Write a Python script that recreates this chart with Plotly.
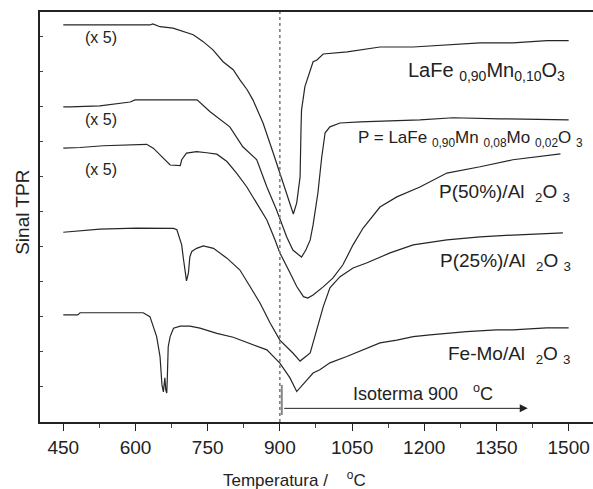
import plotly.graph_objects as go

# Temperature (°C) and TPR signal (arb. units)
temp_mn = [450, 630, 636, 651, 678, 699, 720, 740, 761, 782, 803, 817, 832, 844, 865, 886, 907, 921, 928, 935,
           942, 944, 945, 952, 959, 969, 977, 990, 1040, 1108, 1177, 1247, 1316, 1384, 1455, 1500]
sig_mn = [113.4, 113.4, 113.7, 112.9, 112.5, 111.5, 110.6, 108.7, 106.3, 102.9, 100.6, 97.7, 94.9, 92.0, 85.4,
          76.9, 68.3, 62.6, 59.4, 62.6, 70.0, 84.3, 89.1, 95.8, 98.7, 102.9, 103.4, 105.1, 105.7, 107.1, 107.1,
          107.7, 108.3, 108.3, 108.9, 108.9]

temp_p = [450, 464, 526, 589, 599, 728, 755, 796, 823, 852, 873, 893, 914, 927, 945, 954, 963, 969, 979, 987,
          994, 1004, 1025, 1067, 1191, 1260, 1357, 1500]
sig_p = [90.0, 90.0, 90.3, 91.4, 92.0, 92.0, 88.6, 84.3, 78.6, 74.9, 67.1, 60.6, 52.9, 49.1, 47.1, 49.1, 52.0,
         56.3, 65.4, 75.7, 82.6, 84.3, 85.4, 85.7, 86.3, 86.9, 86.6, 86.3]

temp_p50 = [450, 485, 533, 623, 637, 651, 672, 693, 696, 706, 727, 748, 769, 790, 810, 831, 852, 873, 890, 900,
            921, 935, 949, 958, 969, 990, 1010, 1031, 1052, 1073, 1108, 1143, 1191, 1247, 1316, 1384, 1483]
sig_p50 = [78.2, 78.4, 78.9, 79.3, 78.2, 76.3, 73.4, 73.2, 74.9, 76.8, 77.2, 76.9, 76.5, 74.4, 71.1, 67.2, 62.5,
           57.7, 52.0, 48.3, 42.6, 38.7, 35.8, 35.4, 36.3, 38.6, 41.1, 44.9, 50.6, 55.4, 61.4, 64.3, 67.1, 71.1,
           72.9, 74.9, 76.6]

temp_p25 = [450, 526, 602, 679, 686, 693, 696, 699, 703, 706, 710, 713, 717, 727, 741, 762, 790, 817, 838, 859,
            880, 900, 927, 942, 963, 977, 990, 1004, 1025, 1052, 1080, 1129, 1177, 1247, 1316, 1384, 1488]
sig_p25 = [54.2, 55.1, 55.4, 55.3, 54.9, 52.0, 50.6, 47.2, 42.5, 40.3, 42.6, 47.2, 48.7, 49.6, 50.3, 49.6, 46.8,
           43.4, 38.7, 33.9, 28.2, 23.4, 19.7, 17.4, 19.7, 26.3, 32.9, 38.3, 41.5, 44.0, 45.4, 48.3, 50.6, 52.0,
           52.9, 53.4, 54.0]

temp_femo = [450, 480, 485, 616, 630, 637, 644, 651, 655, 658, 661, 663, 665, 666, 668, 672, 679, 693, 713, 734,
             769, 803, 838, 873, 900, 921, 935, 956, 969, 983, 1004, 1039, 1073, 1108, 1143, 1177, 1212, 1247,
             1288, 1350, 1384, 1454, 1500]
sig_femo = [30.6, 30.6, 31.2, 31.2, 30.1, 27.2, 24.4, 18.7, 10.6, 8.6, 12.6, 9.1, 8.3, 12.0, 21.5, 24.4, 26.8,
            27.4, 27.4, 26.8, 25.3, 24.2, 22.5, 20.6, 16.8, 12.6, 8.7, 12.0, 14.0, 14.9, 16.9, 18.7, 20.6, 22.6,
            23.4, 24.4, 24.9, 25.4, 25.8, 26.3, 26.3, 26.9, 26.9]

x_ticks = [450, 600, 750, 900, 1050, 1200, 1350, 1500]
isotherm_temp = 900

FONT = "Liberation Sans, Arial, sans-serif"
LINE = "#262626"

fig = go.Figure()
for tx, sy in [(temp_mn, sig_mn), (temp_p, sig_p), (temp_p50, sig_p50), (temp_p25, sig_p25),
               (temp_femo, sig_femo)]:
    fig.add_trace(go.Scatter(x=tx, y=sy, mode="lines", line=dict(color=LINE, width=1.2),
                             showlegend=False, hoverinfo="skip"))

# dotted isotherm marker
fig.add_shape(type="line", x0=isotherm_temp, x1=isotherm_temp, y0=0, y1=1, xref="x", yref="paper",
              line=dict(color="#777777", width=1.5, dash="dot"))
fig.add_shape(type="line", x0=904, x1=904, y0=2.0, y1=10.6, xref="x", yref="y",
              line=dict(color="#888888", width=2))

lab = dict(color="#222222", family=FONT)
ann = []
ann.append(dict(x=1497, y=100, text="LaFe <sub>0,90</sub>Mn<sub>0,10</sub>O<sub>3</sub>",
                xanchor="right", yanchor="middle", font=dict(size=20, **lab)))
ann.append(dict(x=1534, y=80.9, text="P = LaFe <sub>0,90</sub>Mn <sub>0,08</sub>Mo <sub>0,02</sub>O <sub>3</sub>",
                xanchor="right", yanchor="middle", font=dict(size=17, **lab)))
ann.append(dict(x=1506, y=65.4, text="P(50%)/Al  <sub>2</sub>O <sub>3</sub>",
                xanchor="right", yanchor="middle", font=dict(size=19, **lab)))
ann.append(dict(x=1510, y=45.7, text="P(25%)/Al  <sub>2</sub>O <sub>3</sub>",
                xanchor="right", yanchor="middle", font=dict(size=19, **lab)))
ann.append(dict(x=1510, y=19.1, text="Fe-Mo/Al  <sub>2</sub>O <sub>3</sub>",
                xanchor="right", yanchor="middle", font=dict(size=19, **lab)))
for yy in [109.7, 86.3, 72.0]:
    ann.append(dict(x=528, y=yy, text="(x 5)", xanchor="center", yanchor="middle",
                    font=dict(size=16, **lab)))
ann.append(dict(x=1048, y=8.3, text="Isoterma 900   <sup>o</sup>C", xanchor="left", yanchor="middle",
                font=dict(size=18, **lab)))
# arrow
ann.append(dict(x=1415, y=3.9, ax=906, ay=3.9, axref="x", ayref="y", xref="x", yref="y", text="",
                showarrow=True, arrowhead=2, arrowsize=1.6, arrowwidth=1, arrowcolor="#222222"))
# axis titles
ann.append(dict(x=0.461, y=-0.14, xref="paper", yref="paper", text="Temperatura /    <sup>o</sup>C",
                xanchor="center", yanchor="middle", font=dict(size=17, **lab)))
ann.append(dict(x=-0.033, y=0.512, xref="paper", yref="paper", text="Sinal TPR", textangle=-90,
                xanchor="center", yanchor="middle", font=dict(size=19, **lab)))
for a in ann:
    a.setdefault("xref", "x")
    a.setdefault("yref", "y")
    a.setdefault("showarrow", False)
fig.update_layout(annotations=ann)

fig.update_layout(
    width=593, height=489,
    margin=dict(l=40, r=0, t=12, b=67),
    paper_bgcolor="white", plot_bgcolor="white",
    font=dict(family=FONT, color="#222222"),
    xaxis=dict(range=[401.6, 1550.6], tickvals=x_ticks, ticks="outside", ticklen=7, tickwidth=1.2,
               tickcolor="#222222", showgrid=False, zeroline=False, showline=True, linecolor="#222222",
               linewidth=2, mirror=True, tickfont=dict(size=19, family=FONT, color="#222222"),
               minor=dict(tick0=450, dtick=75, ticks="outside", ticklen=4, tickcolor="#444444",
                          showgrid=False)),
    yaxis=dict(range=[0, 117.1], dtick=10, tick0=0, ticks="inside", ticklen=3, tickcolor="#444444",
               showticklabels=False, showgrid=False, zeroline=False, showline=True, linecolor="#222222",
               linewidth=2),
)

fig.write_html("out.html", config={"displayModeBar": False},
               post_script="document.body.style.margin='0';document.body.style.padding='0';"
                           "document.body.style.overflow='hidden';")
